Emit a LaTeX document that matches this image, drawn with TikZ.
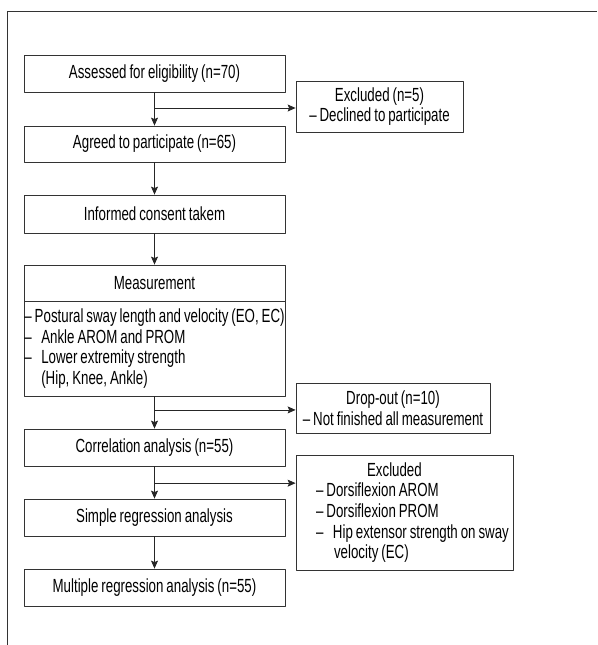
\documentclass[tikz,border=0pt]{standalone}
\usepackage{fontspec}
\setmainfont[FakeStretch=0.7,WordSpace=0.8]{Liberation Sans}
\usetikzlibrary{arrows.meta}
\begin{document}
\begin{tikzpicture}[x=1pt,y=-1pt,>={Stealth[length=8pt,width=7pt,inset=1.5pt]}, line join=round,
	box/.style={draw=black!80, line width=0.8pt, inner sep=0pt, minimum width=261pt, minimum height=37pt, font=\fontsize{19}{20.7}\selectfont},
	side/.style={box, align=center},
	arr/.style={->, draw=black!85, line width=0.8pt}]
	\def\cx{154.5} % main column
	\useasboundingbox (0,0) rectangle (597,645);
	\draw[black!80, line width=0.8pt] (597,11)--(7.5,11)--(7.5,645);
	% main column
	\node[box] (assess) at (\cx,73.5) {Assessed for eligibility (n=70)};
	\node[box, minimum height=36pt] (agree) at (\cx,144) {Agreed to participate (n=65)};
	\node[box, minimum height=38pt] (consent) at (\cx,214) {Informed consent takem};
	\node[box, minimum height=36pt] (meashead) at (\cx,283) {Measurement};
	\node[box, minimum height=95pt, align=left] (measlist) at (\cx,348.5)
	{-- Postural sway length and velocity (EO, EC)\\
		--\enspace Ankle AROM and PROM\\
		--\enspace Lower extremity strength\\
		\phantom{--\enspace}(Hip, Knee, Ankle)};
	\node[box] (corr) at (\cx,447.5) {Correlation analysis (n=55)};
	\node[box] (simple) at (\cx,517.5) {Simple regression analysis};
	\node[box] (multi) at (\cx,587.5) {Multiple regression analysis (n=55)};
	% side boxes
	\node[side, minimum width=167pt, minimum height=51pt] (excl1) at (379.5,106.5) {Excluded (n=5)\\-- Declined to participate};
	\node[side, minimum width=194pt, minimum height=50pt] (drop) at (393,408) {Drop-out (n=10)\\-- Not finished all measurement};
	\node[box, minimum width=217pt, minimum height=115pt, align=left] (excl2) at (404.5,512.5)
	{\hspace*{67pt}Excluded\\
		\hspace*{16pt}-- Dorsiflexion AROM\\
		\hspace*{16pt}-- Dorsiflexion PROM\\
		\hspace*{16pt}--\enspace Hip extensor strength on sway\\
		\hspace*{34pt}velocity (EC)};
	% arrows
	\draw[arr] (assess)--(agree);
	\draw[arr] (agree)--(consent);
	\draw[arr] (consent)--(meashead);
	\draw[arr] (measlist)--(corr);
	\draw[arr] (corr)--(simple);
	\draw[arr] (simple)--(multi);
	\path (assess.south)--(agree.north) coordinate[pos=0.47] (b1);
	\path (measlist.south)--(corr.north) coordinate[pos=0.42] (b2);
	\path (corr.south)--(simple.north) coordinate[pos=0.52] (b3);
	\draw[arr] (b1)--(b1-|excl1.west);
	\draw[arr] (b2)--(b2-|drop.west);
	\draw[arr] (b3)--(b3-|excl2.west);
\end{tikzpicture}
\end{document}
